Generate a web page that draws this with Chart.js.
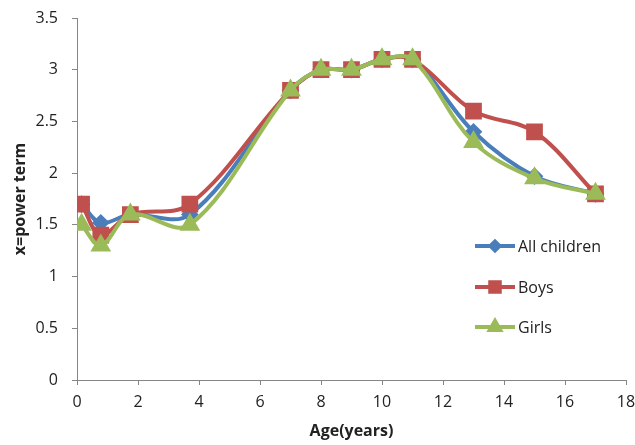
<!DOCTYPE html>
<html>
<head>
<meta charset="utf-8">
<script src="https://cdn.jsdelivr.net/npm/chart.js@4.4.1/dist/chart.umd.min.js"></script>
<style>
  html, body { margin: 0; padding: 0; background: #fff; }
  #wrap { width: 635px; height: 445px; }
</style>
</head>
<body>
<div id="wrap"><canvas id="powerChart" width="635" height="445"></canvas></div>
<script>
const ages = [0.15, 0.78, 1.75, 3.7, 7, 8, 9, 10, 11, 13, 15, 17];
const allChildren = [1.7, 1.52, 1.6, 1.6, 2.8, 3.0, 3.0, 3.1, 3.1, 2.4, 1.97, 1.8];
const boys = [1.7, 1.4, 1.6, 1.7, 2.8, 3.0, 3.0, 3.1, 3.1, 2.6, 2.4, 1.8];
const girls = [1.5, 1.3, 1.6, 1.5, 2.8, 3.0, 3.0, 3.1, 3.1, 2.3, 1.95, 1.8];
const seriesNames = ['All children', 'Boys', 'Girls'];
const xTicks = [0, 2, 4, 6, 8, 10, 12, 14, 16, 18];
const yTicks = [0, 0.5, 1, 1.5, 2, 2.5, 3, 3.5];

const FONT = "'Open Sans', sans-serif";
const axisGrey = '#868686';

function toPoints(vals) {
  return vals.map((v, i) => ({ x: ages[i], y: v }));
}

// legend drawn inside the plot, line + marker like the original
const insideLegend = {
  id: 'insideLegend',
  afterDraw(chart) {
    const ctx = chart.ctx;
    const rows = [246, 287, 327];
    chart.data.datasets.forEach((ds, i) => {
      const y = rows[i];
      ctx.save();
      ctx.strokeStyle = ds.borderColor;
      ctx.lineWidth = 4;
      ctx.beginPath();
      ctx.moveTo(475, y);
      ctx.lineTo(515, y);
      ctx.stroke();
      ctx.fillStyle = ds.pointBackgroundColor;
      ctx.strokeStyle = ds.pointBorderColor;
      Chart.helpers.drawPoint(ctx, {
        pointStyle: ds.pointStyle,
        radius: ds.pointRadius * 0.75,
        borderWidth: 1,
        rotation: 0
      }, 495, y);
      ctx.fillStyle = '#222';
      ctx.font = '16px ' + FONT;
      ctx.textBaseline = 'middle';
      ctx.fillText(ds.label, 518, y + 1);
      ctx.restore();
    });
  }
};

const ctx = document.getElementById('powerChart').getContext('2d');
const powerChart = new Chart(ctx, {
  type: 'scatter',
  data: {
    datasets: [{
      label: seriesNames[0],
      data: toPoints(allChildren),
      borderColor: '#4A7EBB',
      backgroundColor: '#4A7EBB',
      pointBackgroundColor: '#4A7EBB',
      pointBorderColor: '#4A7EBB',
      pointStyle: 'rectRot',
      pointRadius: 6,
      borderWidth: 4,
      showLine: true,
      tension: 0.35,
      order: 3
    }, {
      label: seriesNames[1],
      data: toPoints(boys),
      borderColor: '#C0504D',
      backgroundColor: '#C0504D',
      pointBackgroundColor: '#C0504D',
      pointBorderColor: '#C0504D',
      pointStyle: 'rect',
      pointRadius: 9,
      borderWidth: 4,
      showLine: true,
      tension: 0.35,
      order: 2
    }, {
      label: seriesNames[2],
      data: toPoints(girls),
      borderColor: '#9BBB59',
      backgroundColor: '#9BBB59',
      pointBackgroundColor: '#9BBB59',
      pointBorderColor: '#9BBB59',
      pointStyle: 'triangle',
      pointRadius: 8,
      borderWidth: 4,
      showLine: true,
      tension: 0.35,
      order: 1
    }]
  },
  options: {
    responsive: false,
    animation: false,
    layout: { autoPadding: false, padding: { top: 18, right: 9, left: 0, bottom: 0 } },
    plugins: {
      legend: { display: false },
      tooltip: { enabled: false }
    },
    scales: {
      x: {
        type: 'linear',
        min: 0,
        max: 18,
        afterBuildTicks: (scale) => { scale.ticks = xTicks.map(v => ({ value: v })); },
        afterFit: (scale) => {
          scale.height = 65;
          scale.paddingLeft = 0;
          scale.paddingRight = 0;
        },
        border: { color: axisGrey, width: 1 },
        grid: { drawOnChartArea: false, color: axisGrey, tickLength: 5 },
        ticks: { color: '#222', font: { family: FONT, size: 16 }, padding: 8, maxRotation: 0, callback: v => String(v) },
        title: { display: true, text: 'Age(years)', color: '#222', font: { family: FONT, size: 16, weight: 'bold' }, padding: { top: 0 } }
      },
      y: {
        type: 'linear',
        min: 0,
        max: 3.5,
        afterBuildTicks: (scale) => { scale.ticks = yTicks.map(v => ({ value: v })); },
        afterFit: (scale) => {
          scale.width = 77;
          scale.paddingTop = 0;
          scale.paddingBottom = 0;
        },
        border: { color: axisGrey, width: 1 },
        grid: { drawOnChartArea: false, color: axisGrey, tickLength: 5 },
        ticks: { color: '#222', font: { family: FONT, size: 16 }, padding: 14, callback: v => String(v) },
        title: { display: true, text: 'x=power term', color: '#222', font: { family: FONT, size: 16, weight: 'bold' }, padding: { top: 11, bottom: 4 } }
      }
    }
  },
  plugins: [insideLegend]
});
</script>
</body>
</html>
